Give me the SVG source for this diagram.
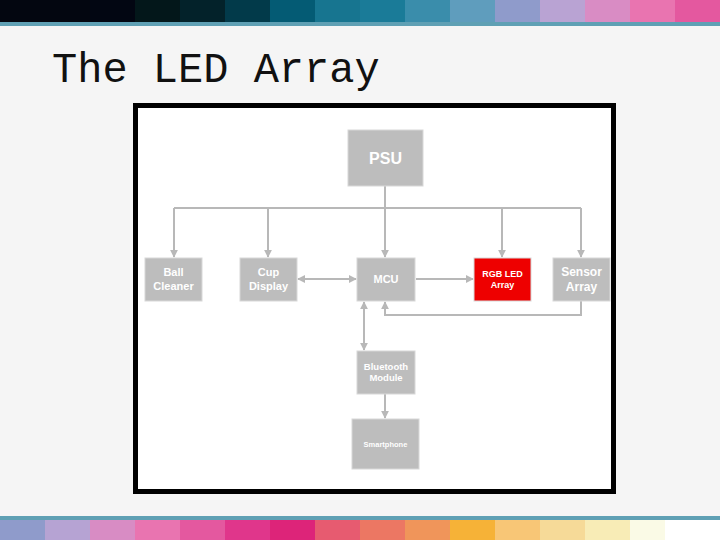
<svg xmlns="http://www.w3.org/2000/svg" width="720" height="540" viewBox="0 0 720 540">
<defs>
<style>
.n{fill:#bdbdbd;stroke:#d8d8d8;stroke-width:1}
.t{font-family:"Liberation Sans",Arial,sans-serif;font-weight:bold;fill:#fff;text-anchor:middle}
.c{fill:none;stroke:#b8b8b8;stroke-width:2}
</style>
<marker id="a" viewBox="0 0 10 10" refX="9" refY="5" markerWidth="4" markerHeight="4" orient="auto-start-reverse"><path d="M0,0L10,5L0,10z" fill="#b8b8b8"/></marker>
</defs>
<rect width="720" height="540" fill="#f5f5f5"/>
<g id="topbar">
<rect x="0" y="0" width="720" height="26" fill="#5fa0b4"/>
<rect x="0" y="0" width="45" height="22" fill="#030610"/><rect x="45" y="0" width="45" height="22" fill="#030610"/><rect x="90" y="0" width="45" height="22" fill="#020612"/><rect x="135" y="0" width="45" height="22" fill="#03171a"/><rect x="180" y="0" width="45" height="22" fill="#03222a"/><rect x="225" y="0" width="45" height="22" fill="#023a4a"/><rect x="270" y="0" width="45" height="22" fill="#045b74"/><rect x="315" y="0" width="45" height="22" fill="#177590"/><rect x="360" y="0" width="45" height="22" fill="#1a7b98"/><rect x="405" y="0" width="45" height="22" fill="#3a8dab"/><rect x="450" y="0" width="45" height="22" fill="#5f9dbd"/><rect x="495" y="0" width="45" height="22" fill="#8f9bcb"/><rect x="540" y="0" width="45" height="22" fill="#b9a3d3"/><rect x="585" y="0" width="45" height="22" fill="#d98cc4"/><rect x="630" y="0" width="45" height="22" fill="#e974b0"/><rect x="675" y="0" width="45" height="22" fill="#e4589f"/>
</g>
<g id="bottombar">
<rect x="0" y="516" width="720" height="24" fill="#5fa0b4"/>
<rect x="0" y="520" width="720" height="20" fill="#fff"/>
<rect x="0" y="520" width="45" height="20" fill="#8f9bcb"/><rect x="45" y="520" width="45" height="20" fill="#b6a3d3"/><rect x="90" y="520" width="45" height="20" fill="#d88cc4"/><rect x="135" y="520" width="45" height="20" fill="#e974b0"/><rect x="180" y="520" width="45" height="20" fill="#e4589f"/><rect x="225" y="520" width="45" height="20" fill="#e0368b"/><rect x="270" y="520" width="45" height="20" fill="#dd2479"/><rect x="315" y="520" width="45" height="20" fill="#e75b70"/><rect x="360" y="520" width="45" height="20" fill="#ec7763"/><rect x="405" y="520" width="45" height="20" fill="#f0955a"/><rect x="450" y="520" width="45" height="20" fill="#f6b237"/><rect x="495" y="520" width="45" height="20" fill="#f8c676"/><rect x="540" y="520" width="45" height="20" fill="#f6da98"/><rect x="585" y="520" width="45" height="20" fill="#f8ecb6"/><rect x="630" y="520" width="35" height="20" fill="#fafae6"/>
</g>
<text x="52" y="82" font-family="'Liberation Mono','Courier New',monospace" font-size="42" fill="#111">The LED Array</text>
<rect x="135.5" y="105.5" width="478" height="386" fill="#fff" stroke="#000" stroke-width="5"/>
<g id="connectors" class="c">
<path d="M385,186V208M174,208H581"/>
<path d="M174,208V257" marker-end="url(#a)"/>
<path d="M268,208V257" marker-end="url(#a)"/>
<path d="M385,208V257" marker-end="url(#a)"/>
<path d="M502,208V257" marker-end="url(#a)"/>
<path d="M581,208V257" marker-end="url(#a)"/>
<path d="M298,279H356" marker-start="url(#a)" marker-end="url(#a)"/>
<path d="M416,279H473" marker-end="url(#a)"/>
<path d="M581,301V315H385V302" marker-end="url(#a)"/>
<path d="M364,302V350" marker-start="url(#a)" marker-end="url(#a)"/>
<path d="M385,394V418" marker-end="url(#a)"/>
</g>
<g id="psu"><rect class="n" x="348" y="130" width="75" height="56"/><text class="t" x="385.5" y="164" font-size="16">PSU</text></g>
<g id="ball"><rect class="n" x="145" y="258" width="57" height="43"/><text class="t" x="173.5" y="276" font-size="11">Ball</text><text class="t" x="173.5" y="290" font-size="11">Cleaner</text></g>
<g id="cup"><rect class="n" x="240" y="258" width="57" height="43"/><text class="t" x="268.5" y="276" font-size="11">Cup</text><text class="t" x="268.5" y="290" font-size="11">Display</text></g>
<g id="mcu"><rect class="n" x="357" y="258" width="58" height="43"/><text class="t" x="386" y="283" font-size="11">MCU</text></g>
<g id="rgb"><rect x="474" y="258" width="57" height="43" fill="#ee0000" stroke="#d8d8d8"/><text class="t" x="502.5" y="277" font-size="9">RGB LED</text><text class="t" x="502.5" y="288" font-size="9">Array</text></g>
<g id="sensor"><rect class="n" x="553" y="258" width="57" height="43"/><text class="t" x="581.5" y="276" font-size="12">Sensor</text><text class="t" x="581.5" y="291" font-size="12">Array</text></g>
<g id="bt"><rect class="n" x="357" y="351" width="58" height="43"/><text class="t" x="386" y="370" font-size="9.5">Bluetooth</text><text class="t" x="386" y="381" font-size="9.5">Module</text></g>
<g id="phone"><rect class="n" x="352" y="419" width="67" height="50"/><text class="t" x="385.5" y="447" font-size="7.5">Smartphone</text></g>
</svg>
